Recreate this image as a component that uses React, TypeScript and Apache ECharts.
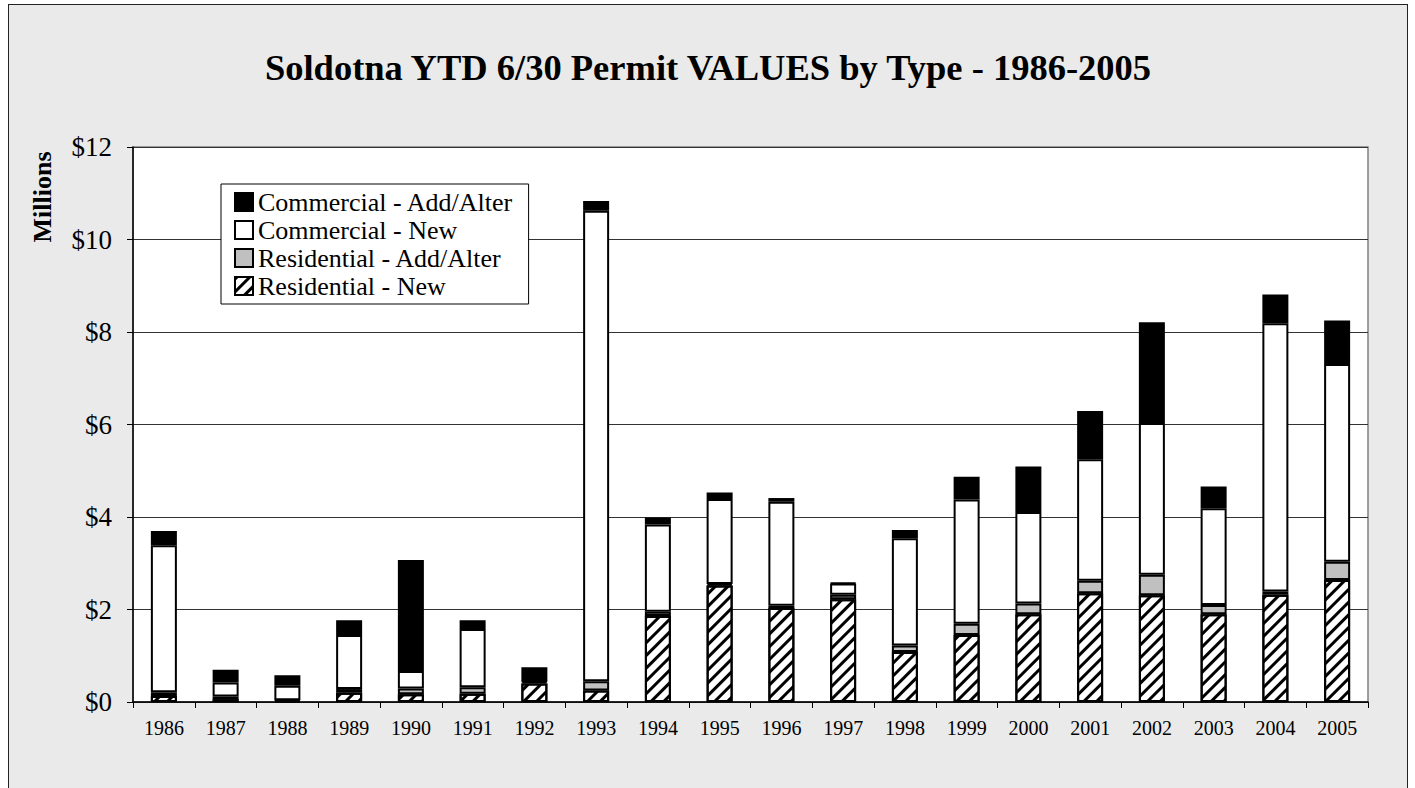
import React, { useEffect, useRef } from 'react';
import * as echarts from 'echarts';

const years = ['1986', '1987', '1988', '1989', '1990', '1991', '1992', '1993', '1994', '1995', '1996', '1997', '1998', '1999', '2000', '2001', '2002', '2003', '2004', '2005'];
const residentialNew = [0.13, 0.06, 0.02, 0.20, 0.17, 0.18, 0.40, 0.25, 1.86, 2.52, 2.03, 2.22, 1.08, 1.45, 1.90, 2.35, 2.31, 1.90, 2.32, 2.64];
const residentialAddAlter = [0.08, 0.06, 0.02, 0.08, 0.12, 0.14, 0.04, 0.20, 0.09, 0.03, 0.05, 0.10, 0.14, 0.24, 0.23, 0.27, 0.44, 0.20, 0.07, 0.39];
const commercialNew = [3.18, 0.30, 0.31, 1.17, 0.38, 1.26, 0.01, 10.17, 1.89, 1.84, 2.25, 0.24, 2.32, 2.69, 1.98, 2.63, 3.28, 2.09, 5.80, 4.28];
const commercialAddAlter = [0.31, 0.28, 0.23, 0.32, 2.40, 0.19, 0.30, 0.21, 0.15, 0.14, 0.08, 0.02, 0.18, 0.49, 0.98, 1.04, 2.18, 0.47, 0.62, 0.94];
const yTicks = [0, 2, 4, 6, 8, 10, 12];
const seriesNames = ['Commercial - Add/Alter', 'Commercial - New', 'Residential - Add/Alter', 'Residential - New'];
const titleText = 'Soldotna YTD 6/30 Permit VALUES by Type - 1986-2005';

const serif = 'Liberation Serif, serif';

export default function App() {
  const ref = useRef<HTMLDivElement>(null);
  useEffect(() => {
    if (!ref.current) return;
    const chart = echarts.init(ref.current, undefined, { renderer: 'svg' });
    const base = {
      type: 'bar',
      stack: 'total',
      barWidth: 26,
      emphasis: { disabled: true },
    };
    chart.setOption({
      animation: false,
      backgroundColor: 'transparent',
      title: {
        text: titleText,
        left: 'center',
        top: 39,
        textStyle: { fontFamily: serif, fontWeight: 'bold', fontSize: 36.5, color: '#000' },
      },
      graphic: [
        {
          type: 'text',
          x: 33,
          y: 192,
          rotation: Math.PI / 2,
          style: {
            text: 'Millions',
            font: 'bold 26px ' + serif,
            fill: '#000',
            align: 'center',
            verticalAlign: 'middle',
          },
        },
      ],
      legend: {
        data: seriesNames,
        orient: 'vertical',
        left: 212,
        top: 179,
        icon: 'rect',
        padding: [5, 15, 5, 13],
        itemGap: 2,
        itemWidth: 18,
        itemHeight: 18,
        backgroundColor: '#fff',
        borderColor: '#000',
        borderWidth: 1,
        borderRadius: 0,
        selectedMode: false,
        textStyle: { fontFamily: serif, fontSize: 26, color: '#000' },
      },
      grid: {
        left: 124,
        top: 142,
        width: 1235,
        height: 555,
        show: true,
        backgroundColor: '#fff',
        borderColor: '#808080',
        borderWidth: 1.5,
      },
      xAxis: {
        type: 'category',
        data: years,
        axisLine: { lineStyle: { color: '#000', width: 1.5 } },
        axisTick: { show: true, length: 6, lineStyle: { color: '#000' } },
        axisLabel: { fontFamily: serif, fontSize: 20, color: '#000', margin: 16 },
      },
      yAxis: {
        type: 'value',
        min: yTicks[0],
        max: yTicks[yTicks.length - 1],
        interval: 2,
        axisLine: { show: true, lineStyle: { color: '#000', width: 1.5 } },
        axisTick: { show: true, length: 6, lineStyle: { color: '#000' } },
        axisLabel: {
          fontFamily: serif,
          fontSize: 27,
          color: '#000',
          margin: 21,
          formatter: (v: number) => '$' + v,
        },
        splitLine: { lineStyle: { color: '#333', width: 1 } },
      },
      series: [
        {
          ...base,
          name: 'Residential - New',
          data: residentialNew,
          itemStyle: {
            color: '#fff',
            borderColor: '#000',
            borderWidth: 2,
            decal: {
              symbol: 'rect',
              symbolSize: 1,
              dashArrayX: [1, 0],
              dashArrayY: [3, 6],
              rotation: -Math.PI / 4,
              color: '#000',
            },
          },
        },
        {
          ...base,
          name: 'Residential - Add/Alter',
          data: residentialAddAlter,
          itemStyle: { color: '#c0c0c0', borderColor: '#000', borderWidth: 2 },
        },
        {
          ...base,
          name: 'Commercial - New',
          data: commercialNew,
          itemStyle: { color: '#fff', borderColor: '#000', borderWidth: 2 },
        },
        {
          ...base,
          name: 'Commercial - Add/Alter',
          data: commercialAddAlter,
          itemStyle: { color: '#000', borderColor: '#000', borderWidth: 2 },
        },
      ],
    });
    return () => chart.dispose();
  }, []);
  return (
    <div
      style={{
        position: 'absolute',
        left: 8,
        top: 4,
        width: 1400,
        height: 784,
        boxSizing: 'border-box',
        borderTop: '1px solid #222',
        borderLeft: '1px solid #222',
        borderRight: '1px solid #222',
        background: '#eaeaea',
      }}
    >
      <div ref={ref} style={{ width: 1398, height: 783 }} />
    </div>
  );
}
